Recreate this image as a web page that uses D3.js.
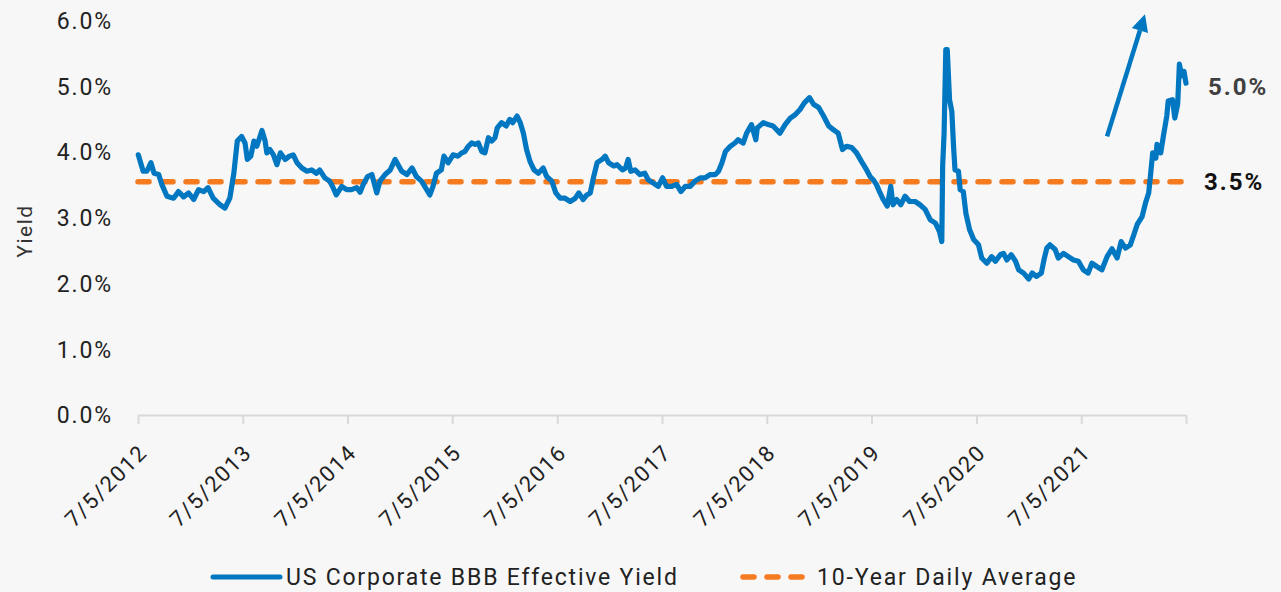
<!DOCTYPE html>
<html><head><meta charset="utf-8">
<script src="https://cdn.jsdelivr.net/npm/d3@7"></script>
<style>
html,body{margin:0;padding:0;background:#f7f7f7;}
svg{display:block;font-family:Roboto,"Noto Sans",sans-serif;}
</style></head><body>
<svg id="c" width="1281" height="592"></svg>
<script>
const dates = ["2012-07-06","2012-07-23","2012-08-05","2012-08-19","2012-08-30","2012-09-15","2012-09-26","2012-10-14","2012-11-06","2012-11-23","2012-12-11","2012-12-28","2013-01-15","2013-02-01","2013-02-19","2013-03-06","2013-03-24","2013-04-17","2013-05-04","2013-05-21","2013-06-04","2013-06-16","2013-07-01","2013-07-13","2013-07-21","2013-08-02","2013-08-13","2013-08-23","2013-09-10","2013-09-21","2013-09-27","2013-10-08","2013-10-20","2013-11-01","2013-11-13","2013-11-30","2013-12-15","2013-12-28","2014-01-10","2014-01-27","2014-02-14","2014-03-02","2014-03-19","2014-03-30","2014-04-17","2014-05-04","2014-05-16","2014-05-27","2014-06-15","2014-07-02","2014-07-19","2014-08-06","2014-08-18","2014-08-29","2014-09-13","2014-09-28","2014-10-15","2014-10-26","2014-11-13","2014-12-01","2014-12-18","2015-01-10","2015-01-28","2015-02-15","2015-03-02","2015-03-20","2015-04-07","2015-04-18","2015-04-29","2015-05-11","2015-05-28","2015-06-06","2015-06-21","2015-07-08","2015-07-25","2015-08-07","2015-08-18","2015-08-30","2015-09-11","2015-09-23","2015-10-04","2015-10-16","2015-10-27","2015-11-08","2015-11-20","2015-12-01","2015-12-09","2015-12-24","2016-01-09","2016-01-21","2016-02-01","2016-02-16","2016-02-27","2016-03-09","2016-03-20","2016-04-01","2016-04-15","2016-04-30","2016-05-17","2016-05-29","2016-06-16","2016-06-30","2016-07-15","2016-08-01","2016-08-19","2016-09-06","2016-09-18","2016-10-03","2016-10-16","2016-10-28","2016-11-09","2016-11-21","2016-12-08","2016-12-19","2016-12-31","2017-01-18","2017-01-29","2017-02-17","2017-02-28","2017-03-09","2017-03-18","2017-04-02","2017-04-19","2017-05-06","2017-05-18","2017-06-05","2017-06-22","2017-07-07","2017-07-21","2017-08-08","2017-08-25","2017-09-09","2017-09-24","2017-10-11","2017-10-28","2017-11-15","2017-12-02","2017-12-20","2018-01-07","2018-01-18","2018-01-30","2018-02-11","2018-02-28","2018-03-16","2018-03-27","2018-04-14","2018-04-26","2018-05-13","2018-05-28","2018-06-02","2018-06-23","2018-07-10","2018-07-27","2018-08-20","2018-09-07","2018-09-25","2018-10-12","2018-10-29","2018-11-13","2018-12-01","2018-12-15","2019-01-02","2019-01-19","2019-02-06","2019-02-23","2019-03-11","2019-03-26","2019-04-09","2019-04-27","2019-05-14","2019-05-31","2019-06-18","2019-06-30","2019-07-11","2019-07-22","2019-08-04","2019-08-15","2019-08-29","2019-09-10","2019-09-18","2019-10-01","2019-10-15","2019-10-30","2019-11-15","2019-12-04","2019-12-21","2020-01-08","2020-01-26","2020-02-13","2020-02-27","2020-03-06","2020-03-09","2020-03-14","2020-03-20","2020-03-25","2020-04-02","2020-04-10","2020-04-16","2020-04-21","2020-05-03","2020-05-09","2020-05-20","2020-05-29","2020-06-11","2020-06-25","2020-07-12","2020-07-23","2020-08-10","2020-08-27","2020-09-09","2020-09-26","2020-10-07","2020-10-19","2020-11-03","2020-11-18","2020-11-29","2020-12-16","2021-01-03","2021-01-15","2021-01-30","2021-02-16","2021-02-25","2021-03-07","2021-03-18","2021-04-05","2021-04-16","2021-05-04","2021-05-21","2021-06-08","2021-06-25","2021-07-12","2021-07-29","2021-08-11","2021-08-28","2021-09-15","2021-10-03","2021-10-20","2021-11-07","2021-11-21","2021-12-06","2021-12-23","2022-01-04","2022-01-16","2022-02-02","2022-02-14","2022-02-25","2022-03-04","2022-03-11","2022-03-22","2022-03-26","2022-04-08","2022-04-17","2022-04-29","2022-05-04","2022-05-19","2022-05-27","2022-06-06","2022-06-12","2022-06-20","2022-06-28","2022-07-05"];
const yields = [3.96,3.71,3.71,3.84,3.68,3.66,3.51,3.33,3.30,3.40,3.32,3.38,3.28,3.43,3.40,3.46,3.30,3.20,3.15,3.30,3.68,4.17,4.24,4.14,3.89,3.94,4.17,4.09,4.33,4.17,3.99,4.04,3.96,3.81,3.99,3.89,3.94,3.96,3.84,3.76,3.71,3.73,3.68,3.73,3.61,3.56,3.46,3.35,3.48,3.43,3.43,3.46,3.39,3.51,3.63,3.66,3.38,3.56,3.66,3.73,3.89,3.71,3.66,3.76,3.63,3.56,3.43,3.35,3.48,3.68,3.73,3.94,3.84,3.96,3.94,3.99,4.01,4.09,4.14,4.12,4.14,4.01,3.99,4.22,4.17,4.22,4.37,4.45,4.40,4.50,4.45,4.55,4.45,4.29,4.04,3.86,3.73,3.68,3.76,3.63,3.56,3.38,3.30,3.30,3.25,3.30,3.38,3.28,3.35,3.38,3.63,3.84,3.89,3.94,3.84,3.79,3.81,3.73,3.76,3.89,3.71,3.73,3.66,3.68,3.58,3.53,3.48,3.61,3.48,3.48,3.51,3.40,3.48,3.48,3.56,3.61,3.61,3.66,3.66,3.71,3.84,4.01,4.09,4.14,4.19,4.14,4.29,4.42,4.19,4.37,4.45,4.42,4.40,4.29,4.42,4.52,4.57,4.65,4.75,4.83,4.73,4.68,4.55,4.40,4.34,4.29,4.04,4.09,4.07,3.99,3.86,3.73,3.63,3.58,3.51,3.38,3.28,3.18,3.48,3.20,3.28,3.20,3.33,3.25,3.25,3.20,3.13,2.97,2.92,2.79,2.64,3.79,4.29,5.56,5.56,4.80,4.62,4.09,3.73,3.71,3.43,3.40,3.07,2.82,2.67,2.59,2.39,2.31,2.41,2.34,2.44,2.46,2.36,2.44,2.34,2.21,2.16,2.07,2.16,2.11,2.16,2.36,2.54,2.59,2.52,2.39,2.46,2.41,2.36,2.34,2.21,2.16,2.31,2.26,2.21,2.41,2.53,2.39,2.64,2.54,2.59,2.74,2.90,3.02,3.23,3.38,3.68,3.99,3.91,4.12,3.99,4.24,4.55,4.78,4.80,4.52,4.73,5.34,5.16,5.23,5.05];
const averageYield = 3.55;
const yTicks = [0,1,2,3,4,5,6];
const xTickDates = ["2012-07-05","2013-07-05","2014-07-05","2015-07-05","2016-07-05","2017-07-05","2018-07-05","2019-07-05","2020-07-05","2021-07-05","2022-07-05"];
const xTickLabels = ["7/5/2012","7/5/2013","7/5/2014","7/5/2015","7/5/2016","7/5/2017","7/5/2018","7/5/2019","7/5/2020","7/5/2021",""];
const seriesNames = ["US Corporate BBB Effective Yield","10-Year Daily Average"];
const endLabels = ["5.0%","3.5%"];
const arrowFrom = ["2021-10-03", 4.24];
const arrowTo = ["2022-02-12", 6.10];

const parse = d3.timeParse("%Y-%m-%d");
const svg = d3.select("#c");
const BLUE = "#0077c0", ORANGE = "#f47b20";
const x = d3.scaleTime().domain([parse("2012-07-05"), parse("2022-07-05")]).range([138, 1186]);
const y = d3.scaleLinear().domain([0, 6]).range([415, 20.8]);

// y axis labels
svg.append("g").selectAll("text").data(yTicks).join("text")
  .attr("x", 113).attr("y", d => y(d)).attr("dy", "0.36em")
  .attr("text-anchor", "end").attr("font-size", 23).attr("letter-spacing", 1.9)
  .attr("fill", "#222").text(d => d.toFixed(1) + "%");

svg.append("text").attr("transform", `translate(32,${y(2.8)}) rotate(-90)`)
  .attr("text-anchor", "middle").attr("font-size", 21).attr("letter-spacing", 1.5)
  .attr("fill", "#333").text("Yield");

// x axis
const xAxis = d3.axisBottom(x)
  .tickValues(xTickDates.map(parse))
  .tickFormat((d, i) => xTickLabels[i])
  .tickSize(9).tickSizeOuter(0);
const gx = svg.append("g").attr("transform", "translate(0,415)").call(xAxis);
gx.select(".domain").attr("stroke", "#d9d9d9").attr("stroke-width", 2);
gx.selectAll(".tick line").attr("stroke", "#d9d9d9").attr("stroke-width", 2);
gx.selectAll(".tick text").attr("font-size", 22).attr("letter-spacing", 1.6)
  .attr("fill", "#222").attr("font-family", "Roboto, sans-serif")
  .attr("text-anchor", "end").attr("dy", 0).attr("y", 0)
  .attr("transform", "translate(10,39) rotate(-45)");

// average line
svg.append("line")
  .attr("x1", x.range()[0]).attr("x2", x.range()[1])
  .attr("y1", y(averageYield)).attr("y2", y(averageYield))
  .attr("stroke", ORANGE).attr("stroke-width", 5.5)
  .attr("stroke-dasharray", "11,13").attr("stroke-linecap", "round");

// yield line
const data = dates.map((d, i) => ({date: parse(d), v: yields[i]}));
svg.append("path").datum(data)
  .attr("fill", "none").attr("stroke", BLUE).attr("stroke-width", 5.2)
  .attr("stroke-linejoin", "round").attr("stroke-linecap", "round")
  .attr("d", d3.line().x(d => x(d.date)).y(d => y(d.v)));

// arrow annotation
const ax1 = x(parse(arrowFrom[0])), ay1 = y(arrowFrom[1]);
const ax2 = x(parse(arrowTo[0])), ay2 = y(arrowTo[1]);
const ang = Math.atan2(ay2 - ay1, ax2 - ax1);
const headLen = 17, headW = 8.5;
const bx = ax2 - headLen * Math.cos(ang), by = ay2 - headLen * Math.sin(ang);
svg.append("line").attr("x1", ax1).attr("y1", ay1).attr("x2", bx).attr("y2", by)
  .attr("stroke", BLUE).attr("stroke-width", 4.5);
svg.append("path").attr("fill", BLUE)
  .attr("d", `M${ax2},${ay2}L${bx + headW*Math.sin(ang)},${by - headW*Math.cos(ang)}L${bx - headW*Math.sin(ang)},${by + headW*Math.cos(ang)}Z`);

// end labels
svg.append("text").attr("x", 1208).attr("y", y(5.0)).attr("dy", "0.36em")
  .attr("font-size", 24).attr("font-weight", 700).attr("fill", "#404040").attr("letter-spacing", 2)
  .text(endLabels[0]);
svg.append("text").attr("x", 1204).attr("y", y(averageYield)).attr("dy", "0.36em")
  .attr("font-size", 24).attr("font-weight", 700).attr("fill", "#111").attr("letter-spacing", 2)
  .text(endLabels[1]);

// legend
const lg = svg.append("g").attr("transform", "translate(0,577)");
lg.append("line").attr("x1", 213).attr("x2", 280).attr("y1", 0).attr("y2", 0)
  .attr("stroke", BLUE).attr("stroke-width", 5).attr("stroke-linecap", "round");
lg.append("text").attr("x", 286).attr("y", 0).attr("dy", "0.36em")
  .attr("font-size", 23).attr("letter-spacing", 1.8).attr("fill", "#222").text(seriesNames[0]);
lg.append("line").attr("x1", 743).attr("x2", 806).attr("y1", 0).attr("y2", 0)
  .attr("stroke", ORANGE).attr("stroke-width", 5.5).attr("stroke-linecap", "round")
  .attr("stroke-dasharray", "11,13");
lg.append("text").attr("x", 817).attr("y", 0).attr("dy", "0.36em")
  .attr("font-size", 23).attr("letter-spacing", 1.85).attr("fill", "#222").text(seriesNames[1]);
</script>
</body></html>
